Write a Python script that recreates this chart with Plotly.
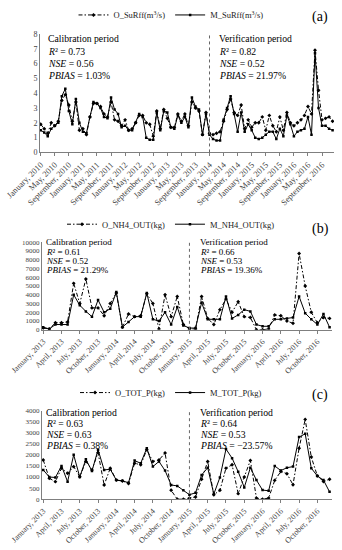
import plotly.graph_objects as go

MONTH_NAMES = ["January", "February", "March", "April", "May", "June", "July",
               "August", "September", "October", "November", "December"]
months_a = [f"{m}, {y}" for y in range(2010, 2017) for m in MONTH_NAMES]
months_bc = [f"{m}, {y}" for y in range(2013, 2017) for m in MONTH_NAMES]
ticks_a = months_a[::4]
ticks_bc = months_bc[::3]
yticks_a = [0, 1, 2, 3, 4, 5, 6, 7, 8]
yticks_b = [0, 1000, 2000, 3000, 4000, 5000, 6000, 7000, 8000, 9000, 10000]
yticks_c = [0, 500, 1000, 1500, 2000, 2500, 3000, 3500, 4000]

# (a) surface runoff, m3/s
o_surff = [1.9, 1.6, 1.3, 2.0, 1.8, 2.1, 3.5, 3.9, 3.2, 2.1, 3.4, 1.5,
           1.6, 1.2, 2.4, 3.3, 3.3, 3.1, 2.6, 2.4, 3.4, 2.2, 2.1, 1.8,
           2.2, 1.5, 1.6, 2.0, 2.5, 2.5, 2.0, 1.9, 1.1, 2.8, 1.6, 2.9,
           2.3, 1.7, 1.7, 2.6, 2.1, 2.6, 1.8, 3.4, 3.0, 2.8, 1.2, 2.7,
           1.3, 1.2, 1.3, 1.4, 2.1, 2.9, 3.6, 2.7, 2.5, 3.2, 1.6, 2.2,
           1.7, 2.0, 2.0, 2.4, 1.5, 2.5, 1.8, 1.4, 2.4, 1.5, 2.7, 2.0,
           1.8, 2.0, 2.2, 2.5, 3.1, 2.6, 6.9, 4.2, 2.2, 2.3, 2.4, 2.1]
m_surff = [1.5, 1.35, 1.1, 1.6, 1.8, 2.0, 3.8, 4.3, 2.8, 1.9, 3.6, 2.0,
           1.4, 1.3, 2.4, 3.4, 3.3, 3.0, 2.4, 2.3, 3.7, 2.9, 2.6, 1.7,
           1.8, 1.5, 1.5, 2.0, 2.6, 2.4, 1.0, 0.85, 0.85, 2.7, 1.5, 2.8,
           2.7, 1.7, 1.6, 2.5, 2.0, 2.4, 1.7, 3.7, 3.1, 2.9, 1.2, 2.6,
           1.2, 0.9, 0.8, 0.8, 2.2, 3.0, 3.8, 2.6, 1.4, 2.7, 1.4, 1.9,
           1.5, 1.0, 0.9, 1.0, 1.2, 1.4, 1.4, 0.9, 1.6, 1.1, 2.5, 1.9,
           1.1, 1.4, 1.5, 1.6, 2.4, 1.2, 6.7, 3.0, 1.8, 1.8, 1.6, 1.5]

# (b) NH4 out, kg
o_nh4 = [200, 100, 800, 800, 900, 5300, 3000, 5800, 2500, 2500, 1600, 3000,
         4200, 300, 1800, 1500, 1600, 4100, 3000, 100, 4000, 1500, 3800, 600,
         100, 100, 3800, 1300, 600, 2300, 3500, 2000, 3200, 1500, 1400, 0,
         0, 100, 1700, 1600, 1000, 740, 8700, 5000, 2000, 800, 1400, 1300]
m_nh4 = [300, 100, 600, 600, 600, 4000, 2800, 2100, 1500, 3400, 2000, 2400,
         4300, 300, 900, 1500, 1500, 4200, 1200, 1000, 2000, 600, 2600, 500,
         200, 200, 3100, 1200, 1200, 1200, 3800, 1300, 1700, 2300, 2100, 600,
         400, 400, 1200, 1200, 1300, 1400, 3800, 1900, 1200, 600, 1800, 300]

# (c) total P, kg
o_totp = [1770, 940, 790, 1400, 1170, 1470, 1015, 1700, 1320, 2100, 640, 1400,
          860, 820, 710, 1620, 1550, 2230, 1700, 1770, 2080, 400, 0, 0,
          50, 100, 900, 1700, 200, 400, 1400, 1550, 250, 1000, 1750, 50,
          0, 50, 850, 1250, 1150, 650, 2300, 3600, 1900, 1050, 800, 900]
m_totp = [1320, 1000, 980, 1500, 790, 2000, 1000, 1800, 1270, 2230, 1320, 1350,
          860, 830, 740, 1740, 1620, 2300, 1470, 1700, 1290, 640, 600, 400,
          200, 290, 1090, 1420, 230, 980, 2260, 1850, 1240, 530, 1420, 860,
          410, 380, 1500, 1290, 1420, 1470, 2800, 2950, 1400, 1045, 860, 330]

stats = {
    "a": [("0.73", "0.56", "1.03%"), ("0.82", "0.52", "21.97%")],
    "b": [("0.61", "0.52", "21.29%"), ("0.66", "0.53", "19.36%")],
    "c": [("0.63", "0.63", "0.38%"), ("0.64", "0.53", "\u221223.57%")],
}

W, H = 342, 550
SERIF = "Liberation Serif"
TICK_COL = "#444444"


def py(y):
    return 1 - y / H


def px(x):
    return x / W


fig = go.Figure()

panels = [
    dict(key="a", ax="x", ay="y", legend="legend", x=months_a, o=o_surff, m=m_surff,
         on="O_SuRff(m<sup>3</sup>/s)", mn="M_SuRff(m<sup>3</sup>/s)",
         xdom=[40, 334], ydom=[151, 32], yr=[0, 8], yt=yticks_a, tv=ticks_a,
         split=48, leg_y=13, lab_y=15, txt_y=[37, 50, 62, 74], txt_x=[46, 217],
         tfs=8, xfs=8.5, afs=9.7),
    dict(key="b", ax="x2", ay="y2", legend="legend2", x=months_bc, o=o_nh4, m=m_nh4,
         on="O_NH4_OUT(kg)", mn="M_NH4_OUT(kg)",
         xdom=[42, 332], ydom=[329, 241], yr=[0, 10000], yt=yticks_b, tv=ticks_bc,
         split=24, leg_y=223, lab_y=228, txt_y=[241, 250.8, 260.2, 269.4], txt_x=[44, 198],
         tfs=7, xfs=8, afs=9.0),
    dict(key="c", ax="x3", ay="y3", legend="legend3", x=months_bc, o=o_totp, m=m_totp,
         on="O_TOT_P(kg)", mn="M_TOT_P(kg)",
         xdom=[42, 332], ydom=[499, 410], yr=[0, 4000], yt=yticks_c, tv=ticks_bc,
         split=24, leg_y=392, lab_y=394, txt_y=[412, 423, 434, 445], txt_x=[44, 198],
         tfs=7, xfs=8, afs=9.7),
]

annotations = []
shapes = []
for k, p in enumerate(panels):
    fig.add_trace(go.Scatter(
        x=p["x"], y=p["o"], name=p["on"], mode="lines+markers",
        line=dict(color="black", width=1, dash="4px,2px,1.5px,2px"),
        marker=dict(color="black", size=3, symbol="diamond"),
        xaxis=p["ax"], yaxis=p["ay"], legend=p["legend"]))
    fig.add_trace(go.Scatter(
        x=p["x"], y=p["m"], name=p["mn"], mode="lines+markers",
        line=dict(color="black", width=1),
        marker=dict(color="black", size=2.5, symbol="square"),
        xaxis=p["ax"], yaxis=p["ay"], legend=p["legend"]))

    suffix = "" if k == 0 else str(k + 1)
    n = len(p["x"])
    fig.update_layout(**{
        "xaxis" + suffix: dict(
            domain=[px(p["xdom"][0]), px(p["xdom"][1])], anchor=p["ay"],
            type="category", range=[-0.2, n - 0.6],
            tickvals=p["tv"], ticktext=p["tv"], tickangle=-45,
            tickfont=dict(family=SERIF, size=p["xfs"], color=TICK_COL),
            showline=True, linecolor="#7f7f7f", linewidth=1,
            ticks="outside", ticklen=3, tickcolor="#7f7f7f",
            showgrid=False, zeroline=False, automargin=False),
        "yaxis" + suffix: dict(
            domain=[py(p["ydom"][0]), py(p["ydom"][1])], anchor=p["ax"],
            range=p["yr"], tickvals=p["yt"], ticktext=[str(v) for v in p["yt"]],
            tickfont=dict(family=SERIF, size=p["tfs"], color=TICK_COL),
            showline=True, linecolor="#7f7f7f", linewidth=1,
            ticks="", showgrid=False, zeroline=False, automargin=False),
        p["legend"]: dict(
            x=0.5, y=py(p["leg_y"]), xref="paper", yref="paper",
            xanchor="center", yanchor="middle", orientation="h",
            font=dict(family=SERIF, size=8.5, color="#222"),
            bgcolor="rgba(0,0,0,0)", itemwidth=30, tracegroupgap=0),
    })

    shapes.append(dict(type="line", xref=p["ax"], yref=p["ay"] + " domain",
                       x0=p["split"], x1=p["split"], y0=0, y1=1,
                       line=dict(color="#666", width=1, dash="dot")))

    annotations.append(dict(text="(" + p["key"] + ")", x=px(320), y=py(p["lab_y"]),
                            xref="paper", yref="paper", showarrow=False,
                            xanchor="center", yanchor="middle",
                            font=dict(family=SERIF, size=14, color="black")))
    for j, title in enumerate(["Calibration period", "Verification period"]):
        r2, nse, pb = stats[p["key"]][j]
        lines = [title, f"<i>R</i>\u00b2 = {r2}", f"<i>NSE</i> = {nse}",
                 f"<i>PBIAS</i> = {pb}"]
        for t, yy in zip(lines, p["txt_y"]):
            annotations.append(dict(text=t, x=px(p["txt_x"][j]), y=py(yy),
                                    xref="paper", yref="paper", showarrow=False,
                                    xanchor="left", yanchor="middle",
                                    font=dict(family=SERIF, size=p["afs"], color="black")))

fig.update_layout(width=W, height=H, margin=dict(l=0, r=0, t=0, b=0),
                  paper_bgcolor="white", plot_bgcolor="white",
                  showlegend=True, annotations=annotations, shapes=shapes)

fig.write_html("out.html",
               config={"displayModeBar": False},
               post_script="document.body.style.margin='0';"
                           "document.body.style.overflow='hidden';")
